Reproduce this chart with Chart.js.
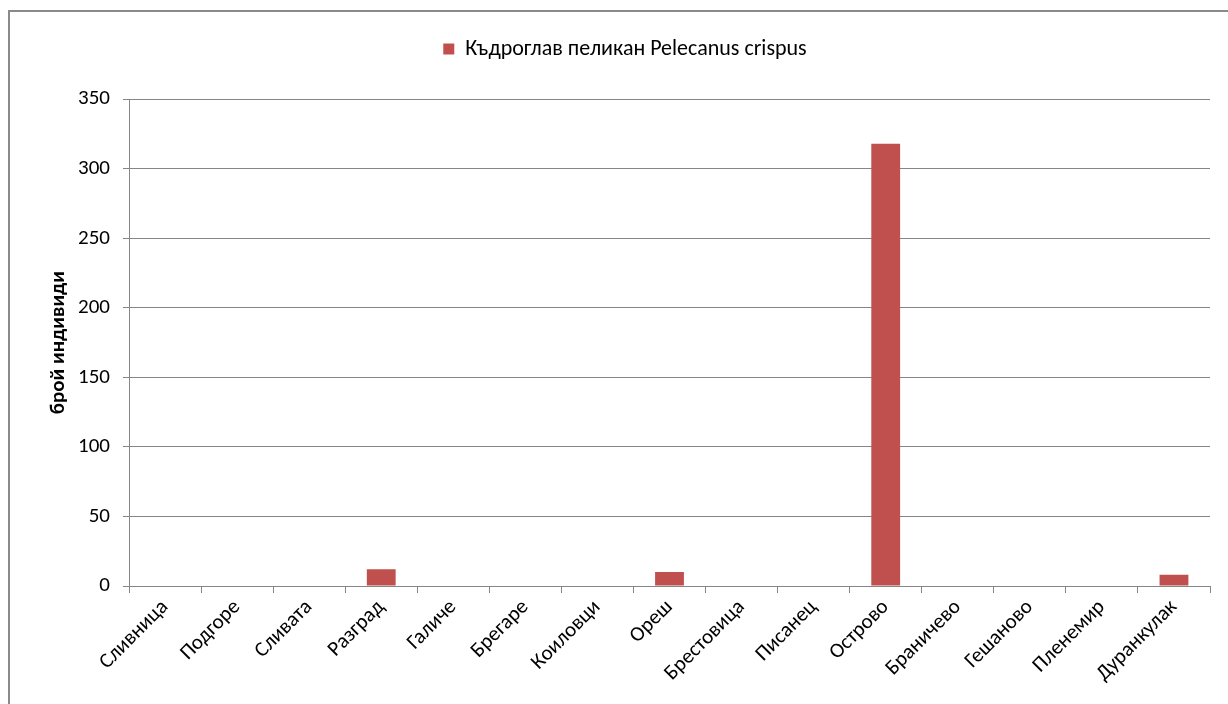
<!DOCTYPE html>
<html>
<head>
<meta charset="utf-8">
<script src="https://cdn.jsdelivr.net/npm/chart.js@4/dist/chart.umd.min.js"></script>
<style>
  html, body { margin: 0; padding: 0; background: #fff; overflow: hidden; }
  #frame { position: absolute; left: 8px; top: 10px; width: 1400px; height: 900px; border: 2px solid #8a8a8a; }
  #wrap { position: absolute; left: 0; top: 0; width: 1228px; height: 704px; }
</style>
</head>
<body>
<div id="frame"></div>
<div id="wrap"><canvas id="pelicanChart" width="1228" height="704"></canvas></div>
<script>
const sites = ['Сливница', 'Подгоре', 'Сливата', 'Разград', 'Галиче', 'Брегаре', 'Коиловци',
  'Ореш', 'Брестовица', 'Писанец', 'Острово', 'Браничево', 'Гешаново', 'Пленемир', 'Дуранкулак'];
const pelicanCounts = [0, 0, 0, 12, 0, 0, 0, 10, 0, 0, 318, 0, 0, 0, 8];
const seriesName = 'Къдроглав пеликан Pelecanus crispus';
const yTitle = 'брой индивиди';

const FONT = "Carlito, Calibri, 'Liberation Sans', sans-serif";
const GRID = '#868686';

const ctx = document.getElementById('pelicanChart').getContext('2d');
new Chart(ctx, {
  type: 'bar',
  data: {
    labels: sites,
    datasets: [{
      label: seriesName,
      data: pelicanCounts,
      backgroundColor: '#c0504d',
      borderWidth: 0,
      categoryPercentage: 0.4,
      barPercentage: 1
    }]
  },
  options: {
    responsive: false,
    animation: false,
    layout: { padding: { left: 40, top: 0, right: 18, bottom: 0 } },
    plugins: {
      legend: {
        position: 'top',
        weight: 3000,
        labels: {
          color: '#000',
          boxWidth: 11,
          boxHeight: 11,
          padding: 38,
          font: { family: FONT, size: 22 }
        }
      },
      // empty spacer between legend and plot area
      subtitle: {
        display: true,
        text: ' ',
        padding: { top: 0, bottom: 28 },
        font: { size: 1 }
      },
      tooltip: { enabled: false }
    },
    scales: {
      x: {
        afterFit: s => { s.height = 118; },
        border: { color: GRID, width: 1 },
        grid: { drawOnChartArea: false, drawTicks: true, tickLength: 7, color: GRID },
        ticks: {
          color: '#000',
          minRotation: 45,
          maxRotation: 45,
          padding: 2,
          font: { family: FONT, size: 21 }
        }
      },
      y: {
        min: 0,
        max: 350,
        afterFit: s => { s.width = 89; },
        border: { color: GRID, width: 1 },
        grid: { color: GRID, lineWidth: 1, tickLength: 6 },
        ticks: {
          stepSize: 50,
          color: '#000',
          padding: 13,
          font: { family: FONT, size: 21 }
        },
        title: {
          display: true,
          text: yTitle,
          color: '#000',
          padding: { top: 6, bottom: 0 },
          font: { family: FONT, size: 21, weight: 'bold' }
        }
      }
    }
  }
});
</script>
</body>
</html>
